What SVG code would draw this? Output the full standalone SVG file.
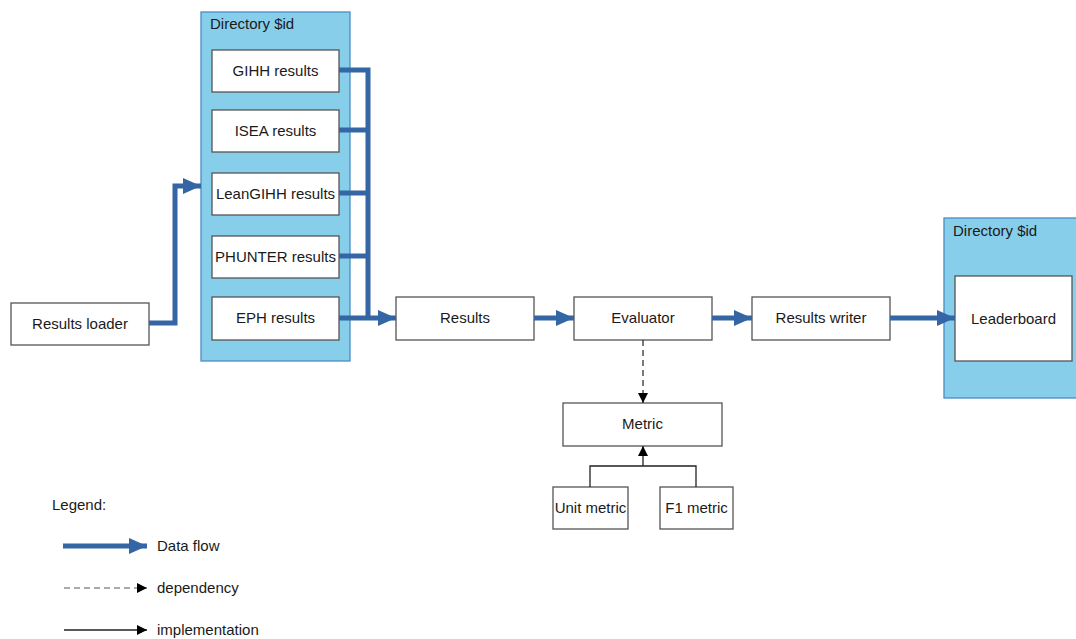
<svg xmlns="http://www.w3.org/2000/svg" width="1076" height="639" viewBox="0 0 1076 639">
  <style>
    text { font-family: "Liberation Sans", Arial, sans-serif; font-size: 15px; fill: #1a1a1a; }
    .c { text-anchor: middle; dominant-baseline: central; }
    .box { fill: #ffffff; stroke: #555555; stroke-width: 1.3; }
    .dir { fill: #87ceeb; stroke: #4a8cc4; stroke-width: 1.3; }
    .flow { fill: none; stroke: #3465a4; stroke-width: 5; stroke-linejoin: miter; }
    .dep { fill: none; stroke: #222; stroke-width: 1.2; stroke-dasharray: 6 4; }
    .impl { fill: none; stroke: #222; stroke-width: 1.3; }
  </style>
  <defs>
    <marker id="flowHead" viewBox="0 0 18 16" refX="18" refY="8" markerWidth="18" markerHeight="16" markerUnits="userSpaceOnUse" orient="auto">
      <path d="M0,0 L18,8 L0,16 Z" fill="#3465a4"/>
    </marker>
    <marker id="smallHead" viewBox="0 0 10 10" refX="10" refY="5" markerWidth="10" markerHeight="10" markerUnits="userSpaceOnUse" orient="auto">
      <path d="M0,0 L10,5 L0,10 Z" fill="#000"/>
    </marker>
  </defs>

  <!-- Input directory -->
  <g id="dir-in">
    <rect class="dir" x="201" y="12" width="149" height="349"/>
    <text x="210" y="23" dominant-baseline="central">Directory $id</text>
  </g>
  <g id="gihh"><rect class="box" x="212" y="50" width="127" height="42"/><text class="c" x="275.5" y="70">GIHH results</text></g>
  <g id="isea"><rect class="box" x="212" y="110" width="127" height="42"/><text class="c" x="275.5" y="130">ISEA results</text></g>
  <g id="leangihh"><rect class="box" x="212" y="173" width="127" height="42"/><text class="c" x="275.5" y="193">LeanGIHH results</text></g>
  <g id="phunter"><rect class="box" x="212" y="236" width="127" height="42"/><text class="c" x="275.5" y="256">PHUNTER results</text></g>
  <g id="eph"><rect class="box" x="212" y="297" width="127" height="43"/><text class="c" x="275.5" y="317">EPH results</text></g>

  <g id="loader"><rect class="box" x="11" y="303" width="138" height="42"/><text class="c" x="80" y="323">Results loader</text></g>
  <g id="results"><rect class="box" x="396" y="297" width="138" height="43"/><text class="c" x="465" y="317">Results</text></g>
  <g id="evaluator"><rect class="box" x="574" y="297" width="138" height="43"/><text class="c" x="643" y="317">Evaluator</text></g>
  <g id="writer"><rect class="box" x="752" y="297" width="138" height="43"/><text class="c" x="821" y="317">Results writer</text></g>
  <g id="metric"><rect class="box" x="563" y="403" width="159" height="43"/><text class="c" x="642.5" y="423">Metric</text></g>
  <g id="unit-metric"><rect class="box" x="553" y="487" width="75" height="42"/><text class="c" x="590.5" y="507">Unit metric</text></g>
  <g id="f1-metric"><rect class="box" x="660" y="487" width="73" height="42"/><text class="c" x="696.5" y="507">F1 metric</text></g>

  <!-- Output directory -->
  <g id="dir-out">
    <rect class="dir" x="944" y="218" width="134" height="180"/>
    <text x="953" y="230" dominant-baseline="central">Directory $id</text>
    <rect class="box" x="955" y="276" width="117" height="85"/>
    <text class="c" x="1013.5" y="318">Leaderboard</text>
  </g>

  <g id="connectors">
    <!-- data flow -->
    <path class="flow" d="M149,323 H175 V186 H201" marker-end="url(#flowHead)"/>
    <path class="flow" d="M339,70 H368 V318"/>
    <path class="flow" d="M339,130 H368"/>
    <path class="flow" d="M339,193 H368"/>
    <path class="flow" d="M339,256 H368"/>
    <path class="flow" d="M339,318 H396" marker-end="url(#flowHead)"/>
    <path class="flow" d="M534,318 H574" marker-end="url(#flowHead)"/>
    <path class="flow" d="M712,318 H752" marker-end="url(#flowHead)"/>
    <path class="flow" d="M890,318 H955" marker-end="url(#flowHead)"/>
    <!-- dependency -->
    <path class="dep" d="M643,340 V403" marker-end="url(#smallHead)"/>
    <!-- implementation -->
    <path class="impl" d="M590,487 V466 H696 V487"/>
    <path class="impl" d="M643,466 V446" marker-end="url(#smallHead)"/>
  </g>

  <g id="legend">
    <text x="52" y="504" dominant-baseline="central">Legend:</text>
    <path class="flow" d="M63,546 H147" marker-end="url(#flowHead)"/>
    <text x="157" y="545" dominant-baseline="central">Data flow</text>
    <path class="dep" d="M64,588 H147" marker-end="url(#smallHead)" style="stroke:#555"/>
    <text x="157" y="587" dominant-baseline="central">dependency</text>
    <path class="impl" d="M64,630 H147" marker-end="url(#smallHead)"/>
    <text x="157" y="629" dominant-baseline="central">implementation</text>
  </g>
</svg>
